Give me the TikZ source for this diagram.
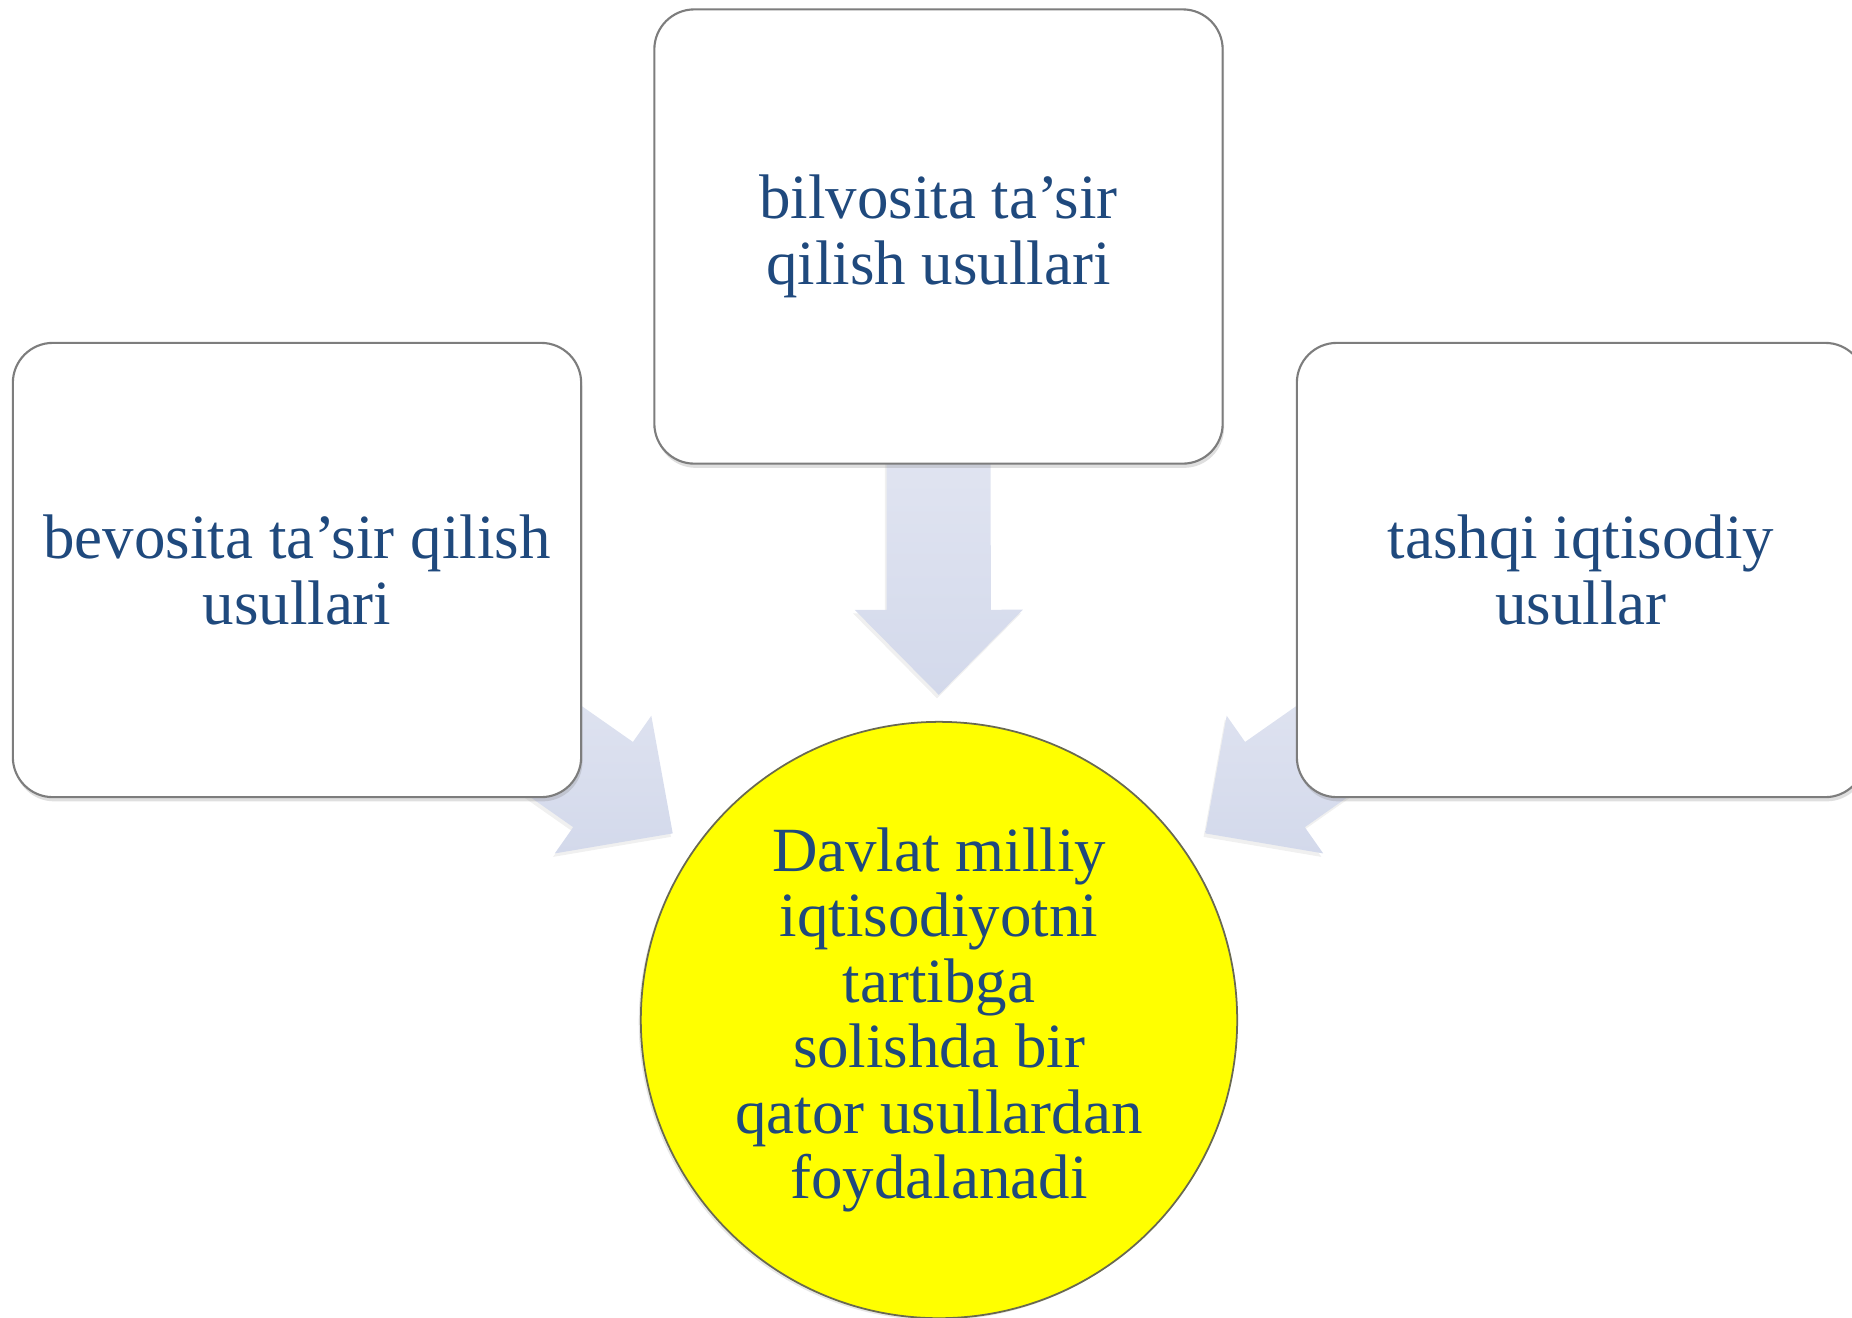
\documentclass[tikz,border=0pt]{standalone}
\usepackage{fontspec}
\setmainfont{Liberation Serif}
\usetikzlibrary{calc,backgrounds,shadows}
\definecolor{textblue}{RGB}{31,73,125}
\definecolor{boxline}{RGB}{125,125,125}
\definecolor{arrowtop}{RGB}{229,232,243}
\definecolor{arrowbottom}{RGB}{211,217,235}
\definecolor{circleline}{RGB}{105,105,80}
\definecolor{goalyellow}{RGB}{255,255,0}
% block arrow from the outer box #1 towards the centre node #2
\newcommand\fatarrow[2]{%
  \path ($(#2)!3.25cm!(#1)$) coordinate (tip)
        ($(#2)!4.1cm!(#1)$) coordinate (neck)
        ($(#2)!6.5cm!(#1)$) coordinate (tail);
  \shade[arrow fill] (tip) -- ($(neck)!0.84cm!90:(tip)$) -- ($(neck)!0.52cm!90:(tip)$)
    -- ($(tail)!0.52cm!90:(tip)$) -- ($(tail)!0.52cm!-90:(tip)$)
    -- ($(neck)!0.52cm!-90:(tip)$) -- ($(neck)!0.84cm!-90:(tip)$) -- cycle;}
\begin{document}
\begin{tikzpicture}[x=0.01cm,y=-0.01cm]
	\tikzstyle{method box}=[rectangle,rounded corners=0.4cm,draw=boxline,line width=0.6pt,fill=white,
		minimum width=5.68cm,minimum height=4.54cm,align=center,text=textblue,
		font=\fontsize{17.9pt}{18.6pt}\selectfont,
		drop shadow={opacity=0.25,shadow xshift=0.4pt,shadow yshift=-1.2pt}]
	\tikzset{
		goal circle/.style={circle,draw=circleline,line width=0.5pt,fill=goalyellow,minimum size=5.96cm,
			inner sep=0pt,align=center,text=textblue,font=\fontsize{17.9pt}{18.6pt}\selectfont,
			drop shadow={opacity=0.2,shadow xshift=-0.6pt,shadow yshift=-0.6pt}},
		arrow fill/.style={top color=arrowtop,bottom color=arrowbottom,
			drop shadow={opacity=0.12,shadow xshift=-0.5pt,shadow yshift=-1pt}}
	}
	\clip (0,0) rectangle (1852,1317);
	\useasboundingbox (0,0) rectangle (1852,1317);
	\node(top)[method box] at (938.5,236.5){bilvosita ta’sir\\qilish usullari};
	\node(left)[method box] at (297,570){bevosita ta’sir qilish\\usullari};
	\node(right)[method box] at (1581,570){tashqi iqtisodiy\\usullar};
	\node(goal)[goal circle] at (939,1020){Davlat milliy\\iqtisodiyotni\\tartibga\\solishda bir\\qator usullardan\\foydalanadi};
	\begin{pgfonlayer}{background}
		\fatarrow{top}{goal}
		\fatarrow{left}{goal}
		\fatarrow{right}{goal}
	\end{pgfonlayer}
\end{tikzpicture}
\end{document}
